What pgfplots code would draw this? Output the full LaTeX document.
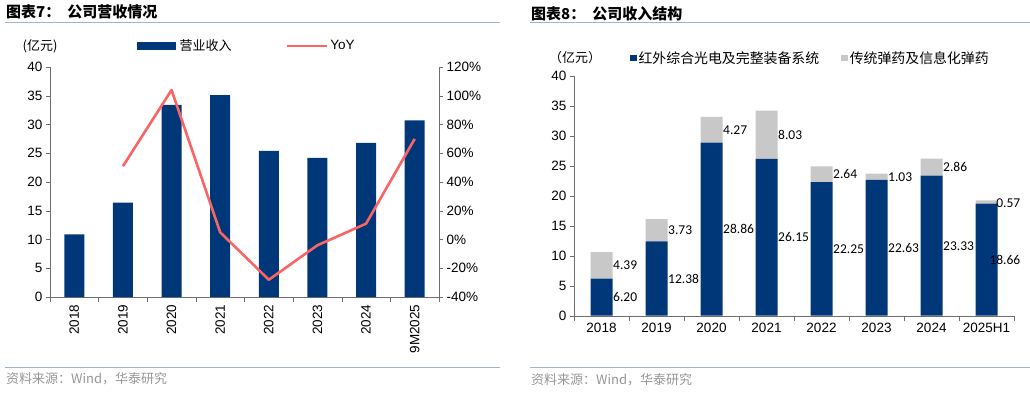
\documentclass[border=0pt]{standalone}
\usepackage{pgfplots}
\usepackage{pgfplotstable}
\pgfplotsset{compat=1.18}
\usepackage{fontspec}
\setmainfont{Liberation Sans}
\newfontfamily\cjk{Noto Sans CJK SC}
\newfontfamily\cali{Carlito}
\definecolor{navy}{RGB}{0,55,120}
\definecolor{lgray}{RGB}{200,200,200}
\definecolor{yoyred}{RGB}{250,100,100}
\definecolor{rulec}{RGB}{160,180,205}
\definecolor{axgray}{RGB}{110,110,110}
\definecolor{srcgray}{RGB}{150,150,150}
\newcommand\tickfont{\fontsize{13.5}{15}\selectfont}
\newcommand\labfont{\fontsize{13.5}{15}\selectfont\cali}
\newcommand\cjkfont{\fontsize{13}{15}\selectfont\cjk}
\newcommand\cjklegfont{\fontsize{13.9}{15}\selectfont\cjk}

\pgfplotstableread{
x val
0 10.9
1 16.4
2 33.4
3 35.1
4 25.4
5 24.2
6 26.8
7 30.7
}\revenue
\pgfplotstableread{
x yoy
1 51
2 104
3 5
4 -28
5 -4
6 11
7 70
}\yoy
\pgfplotstableread{
x blue gray
0 6.20 4.39
1 12.38 3.73
2 28.86 4.27
3 26.15 8.03
4 22.25 2.64
5 22.63 1.03
6 23.33 2.86
7 18.66 0.57
}\structure

\pgfplotsset{
  common/.style={
    scale only axis, anchor=south west,
    xmin=-0.5, xmax=7.5,
    /pgf/number format/assume math mode=true,
    tick align=outside,
    axis line style={axgray,-},
    tick style={axgray, thin},
    major tick length=4pt, minor tick length=5pt,
    clip=false,
  }
}

\begin{document}
\begin{tikzpicture}[x=1pt,y=1pt]
\path[use as bounding box] (0,0) rectangle (1030,392);

% ---------- headers and footers ----------
\node[anchor=west, inner sep=0] at (6,380) {\fontsize{15}{17}\selectfont\cjk\bfseries 图表7：\hspace{7pt}公司营收情况};
\draw[rulec, line width=1pt] (5,369) -- (500,369);
\draw[rulec, line width=1pt] (5,25) -- (500,25);
\node[anchor=west, inner sep=0, text=srcgray] at (6,13) {\cjkfont 资料来源：Wind，华泰研究};
\node[inner sep=0] at (40,346) {\cjkfont (亿元)};

\node[anchor=west, inner sep=0] at (531,378) {\fontsize{15}{17}\selectfont\cjk\bfseries 图表8：\hspace{7pt}公司收入结构};
\draw[rulec, line width=1pt] (530,369) -- (1030,369);
\draw[rulec, line width=1pt] (530,25) -- (1030,25);
\node[anchor=west, inner sep=0, text=srcgray] at (531,12) {\cjkfont 资料来源：Wind，华泰研究};
\node[inner sep=0] at (575,334) {\cjkfont （亿元）};

% ---------- left chart: bars ----------
\begin{axis}[common,
  at={(50pt,95pt)}, width=389pt, height=230pt,
  ymin=0, ymax=40, ytick={0,5,...,40},
  xtick={0,...,7},
  xticklabels={2018,2019,2020,2021,2022,2023,2024,9M2025},
  minor xtick={-0.5,0.5,...,7.5},
  major x tick style={draw=none},
  axis x line*=bottom, axis y line*=left,
  xticklabel style={rotate=90, anchor=east, font=\tickfont},
  yticklabel style={font=\tickfont},
  ybar, bar width=20pt,
]
\addplot[fill=navy, draw=none] table[x=x, y=val] {\revenue};
\end{axis}

% ---------- left chart: YoY ----------
\begin{axis}[common,
  at={(50pt,95pt)}, width=389pt, height=230pt,
  ymin=-40, ymax=120, ytick={-40,-20,...,120},
  axis x line=none, axis y line*=right,
  yticklabel={\pgfmathprintnumber{\tick}\%},
  yticklabel style={font=\tickfont},
  legend columns=2,
  legend style={draw=none, fill=none, at={(0.224,1.091)}, anchor=west,
    inner sep=0pt, font=\tickfont,
    /tikz/every even column/.append style={column sep=52pt}},
]
\addlegendimage{legend image code/.code={\fill[navy] (0pt,-3.5pt) rectangle (38pt,3.5pt);}}
\addlegendentry{\cjkfont\hspace{2pt}营业收入}
\addplot[yoyred, line width=2.6pt, line join=round,
  legend image code/.code={\draw[yoyred, line width=2.6pt] (0pt,0pt) -- (40pt,0pt);}]
  table[x=x, y=yoy] {\yoy};
\addlegendentry{YoY}
\end{axis}

% ---------- right chart: stacked bars ----------
\begin{axis}[common,
  at={(574pt,76.3pt)}, width=440pt, height=240pt,
  ymin=0, ymax=40, ytick={0,5,...,40},
  xtick={0,...,7},
  xticklabels={2018,2019,2020,2021,2022,2023,2024,2025H1},
  minor xtick={-0.5,0.5,...,7.5},
  major x tick style={draw=none},
  axis x line*=bottom, axis y line*=left,
  xticklabel style={font=\tickfont},
  yticklabel style={font=\tickfont},
  ybar stacked, bar width=22pt,
  legend columns=2,
  legend style={draw=none, fill=none, at={(0.127,1.074)}, anchor=west,
    inner sep=0pt, font=\cjklegfont,
    /tikz/every even column/.append style={column sep=20pt}},
]
\addplot[fill=navy, draw=none,
  legend image code/.code={\fill[navy] (0pt,-3.2pt) rectangle (6.5pt,3.2pt);}]
  table[x=x, y=blue] {\structure};
\addlegendentry{红外综合光电及完整装备系统}
\addplot[fill=lgray, draw=none,
  legend image code/.code={\fill[lgray] (0pt,-3.2pt) rectangle (6.5pt,3.2pt);}]
  table[x=x, y=gray] {\structure};
\addlegendentry{传统弹药及信息化弹药}
\end{axis}

% ---------- right chart: data labels ----------
\begin{axis}[common,
  at={(574pt,76.3pt)}, width=440pt, height=240pt,
  ymin=0, ymax=40, hide axis,
  nodes near coords={\pgfmathprintnumber[fixed,fixed zerofill,precision=2]{\pgfplotspointmeta}},
  every node near coord/.append style={font=\labfont, inner sep=0pt},
]
\addplot[draw=none, mark=none, point meta=\thisrow{blue},
  skip coords between index={7}{8},
  every node near coord/.append style={anchor=west, xshift=11.5pt}]
  table[x=x, y expr=\thisrow{blue}/2] {\structure};
\addplot[draw=none, mark=none, point meta=\thisrow{gray},
  skip coords between index={7}{8},
  every node near coord/.append style={anchor=west, xshift=11.5pt}]
  table[x=x, y expr=\thisrow{blue}+\thisrow{gray}/2] {\structure};
\addplot[draw=none, mark=none, point meta=\thisrow{blue},
  skip coords between index={0}{7},
  every node near coord/.append style={anchor=east, xshift=34pt}]
  table[x=x, y expr=\thisrow{blue}/2] {\structure};
\addplot[draw=none, mark=none, point meta=\thisrow{gray},
  skip coords between index={0}{7},
  every node near coord/.append style={anchor=east, xshift=34pt, yshift=-1pt}]
  table[x=x, y expr=\thisrow{blue}+\thisrow{gray}/2] {\structure};
\end{axis}
\end{tikzpicture}
\end{document}
